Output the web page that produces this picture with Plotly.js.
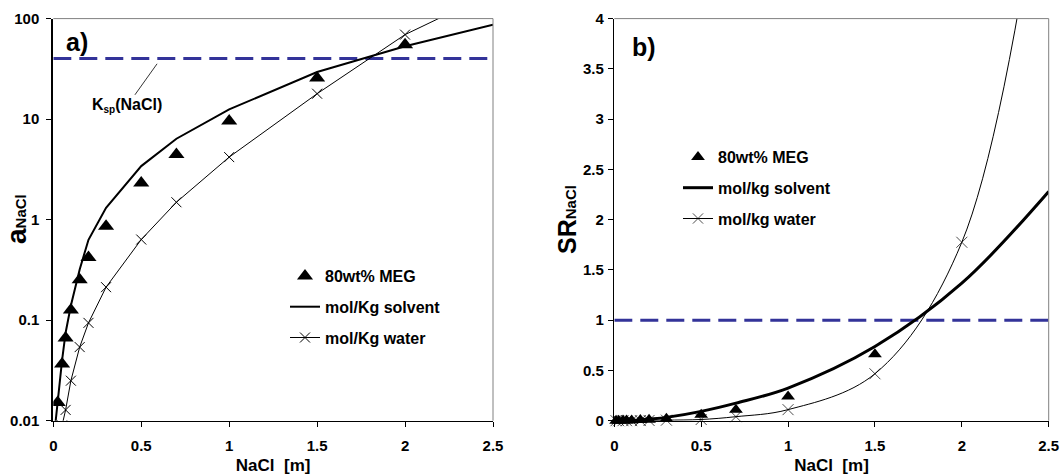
<!DOCTYPE html>
<html>
<head>
<meta charset="utf-8">
<script src="https://cdn.plot.ly/plotly-3.0.1.min.js"></script>
<style>
  html, body { margin: 0; padding: 0; background: #fff; }
  #chart { width: 1062px; height: 476px; }
</style>
</head>
<body>
<div id="chart"></div>
<script>
// ---------- Panel a) activity (log scale) ----------
const xMeg      = [0.025, 0.05, 0.07, 0.1, 0.15, 0.2, 0.3, 0.5, 0.7, 1.0, 1.5, 2.0];
const aMeg      = [0.0152, 0.0367, 0.0665, 0.126, 0.252, 0.42, 0.86, 2.31, 4.46, 9.57, 25.7, 55];
const xModel    = [0.01, 0.025, 0.05, 0.07, 0.1, 0.15, 0.2, 0.3, 0.5, 0.7, 1.0, 1.5, 2.0, 2.5];
const aSolvent  = [0.0087, 0.016, 0.04, 0.075, 0.14, 0.32, 0.63, 1.31, 3.41, 6.38, 12.5, 29.4, 53, 87];
const aWater    = [0.002, 0.004, 0.009, 0.0128, 0.025, 0.054, 0.094, 0.213, 0.634, 1.49, 4.19, 17.9, 69.3, 182];
const kspX      = [0, 2.5];
const kspY      = [40, 40];

// ---------- Panel b) saturation ratio ----------
const xMegSR    = [0.01, 0.025, 0.05, 0.07, 0.1, 0.15, 0.2, 0.3, 0.5, 0.7, 1.0, 1.5];
const srMeg     = [0.0003, 0.0004, 0.0009, 0.0017, 0.003, 0.006, 0.01, 0.02, 0.06, 0.11, 0.24, 0.66];
const xModelSR  = [0.01, 0.025, 0.05, 0.07, 0.1, 0.15, 0.2, 0.3, 0.5, 0.7, 1.0, 1.5, 2.0, 2.5];
const srSolvent = [0.0002, 0.0004, 0.001, 0.0019, 0.0035, 0.008, 0.016, 0.033, 0.093, 0.175, 0.325, 0.738, 1.368, 2.28];
const srWater   = [0.0001, 0.0001, 0.0002, 0.0003, 0.0006, 0.0013, 0.0024, 0.0053, 0.012, 0.04, 0.11, 0.467, 1.775, 6];
const satX      = [0, 2.5];
const satY      = [1, 1];

// ---------- Text ----------
const logTickVals = [0.01, 0.1, 1, 10, 100];
const logTickText = ['0.01', '0.1', '1', '10', '100'];
const legA = ['80wt% MEG', 'mol/Kg solvent', 'mol/Kg water'];
const legB = ['80wt% MEG', 'mol/kg solvent', 'mol/kg water'];

const FONT = 'Liberation Sans, Arial, sans-serif';
const W = 1062, H = 476;
const px = v => v / W;
const py = v => 1 - v / H;

const dash = {color: '#333399', width: 3, dash: '18px,8px'};

const traces = [
  // panel a
  {x: kspX, y: kspY, xaxis: 'x', yaxis: 'y', mode: 'lines', line: dash, showlegend: false, hoverinfo: 'skip'},
  {x: xMeg, y: aMeg, xaxis: 'x', yaxis: 'y', mode: 'markers', name: legA[0], legend: 'legend', legendgroup: 'a1',
   marker: {symbol: 'triangle-up', size: 14, color: '#000'}},
  {x: xModel, y: aSolvent, xaxis: 'x', yaxis: 'y', mode: 'lines', name: legA[1], legend: 'legend', legendgroup: 'a2',
   line: {color: '#000', width: 2}},
  {x: xModel, y: aWater, xaxis: 'x', yaxis: 'y', mode: 'lines+markers', name: legA[2], legend: 'legend', legendgroup: 'a3',
   line: {color: '#000', width: 1}, marker: {symbol: 'x-thin-open', size: 10, color: '#000', line: {width: 1, color: '#000'}}},
  // panel b
  {x: satX, y: satY, xaxis: 'x2', yaxis: 'y2', mode: 'lines', line: dash, showlegend: false, hoverinfo: 'skip'},
  {x: xMegSR, y: srMeg, xaxis: 'x2', yaxis: 'y2', mode: 'markers', name: legB[0], legend: 'legend2', legendgroup: 'b1',
   cliponaxis: false, marker: {symbol: 'triangle-up', size: 12, color: '#000'}},
  {x: xModelSR, y: srSolvent, xaxis: 'x2', yaxis: 'y2', mode: 'lines', name: legB[1], legend: 'legend2', legendgroup: 'b2',
   line: {color: '#000', width: 3, shape: 'spline', smoothing: 1}},
  {x: xModelSR, y: srWater, xaxis: 'x2', yaxis: 'y2', mode: 'lines+markers', name: legB[2], legend: 'legend2', legendgroup: 'b3',
   cliponaxis: false,
   line: {color: '#000', width: 1, shape: 'spline', smoothing: 1},
   marker: {symbol: 'x-thin-open', size: xModelSR.map(v => v > 2.4 ? 0 : 11), color: '#000', line: {width: 1, color: '#000'}}}
];

const tickFont = {family: FONT, size: 15, color: '#000', weight: 'bold'};
const titleFont = {family: FONT, size: 17, color: '#000', weight: 'bold'};
const legFont = {family: FONT, size: 16, color: '#000', weight: 'bold'};

const xCommon = {
  range: [0, 2.5], tick0: 0, dtick: 0.5, ticks: 'outside', ticklen: 5, tickcolor: '#000', tickwidth: 1,
  showline: true, linecolor: '#000', linewidth: 1.5, showgrid: false, zeroline: false,
  tickfont: tickFont, automargin: false, fixedrange: true, ticklabelstandoff: 6,
  title: {text: 'NaCl\u00a0 [m]', font: titleFont, standoff: 6}
};

const yDomain = [1 - 420.7 / H, 1 - 18.6 / H];

const layout = {
  width: W, height: H,
  margin: {l: 0, r: 0, t: 0, b: 0},
  paper_bgcolor: '#fff', plot_bgcolor: '#fff',
  font: {family: FONT, color: '#000'},
  xaxis: Object.assign({}, xCommon, {domain: [px(53.3), px(493)], anchor: 'y'}),
  yaxis: {
    type: 'log', range: [-2, 2], domain: yDomain, anchor: 'x',
    tickvals: logTickVals, ticktext: logTickText,
    ticks: 'outside', ticklen: 5, tickcolor: '#000',
    showline: true, linecolor: '#000', linewidth: 2, showgrid: false, zeroline: false,
    tickfont: tickFont, automargin: false, fixedrange: true, ticklabelstandoff: 4
  },
  xaxis2: Object.assign({}, xCommon, {domain: [px(614.3), px(1048.7)], anchor: 'y2'}),
  yaxis2: {
    range: [0, 4], tick0: 0, dtick: 0.5, domain: yDomain, anchor: 'x2',
    ticks: 'outside', ticklen: 5, tickcolor: '#000',
    showline: true, linecolor: '#000', linewidth: 1.5, showgrid: false, zeroline: false,
    tickfont: tickFont, automargin: false, fixedrange: true, ticklabelstandoff: 1
  },
  legend: {
    x: px(285), y: py(259), xanchor: 'left', yanchor: 'top',
    bgcolor: 'rgba(0,0,0,0)', borderwidth: 0,
    font: legFont, tracegroupgap: 7, traceorder: 'grouped'
  },
  legend2: {
    x: px(678), y: py(140), xanchor: 'left', yanchor: 'top',
    bgcolor: 'rgba(0,0,0,0)', borderwidth: 0,
    font: legFont, tracegroupgap: 7, traceorder: 'grouped'
  },
  shapes: [
    {type: 'line', xref: 'x domain', yref: 'y domain', x0: 0, x1: 1, y0: 1, y1: 1, line: {color: '#808080', width: 1}},
    {type: 'line', xref: 'x domain', yref: 'y domain', x0: 1, x1: 1, y0: 0, y1: 1, line: {color: '#808080', width: 1}},
    {type: 'line', xref: 'x2 domain', yref: 'y2 domain', x0: 0, x1: 1, y0: 1, y1: 1, line: {color: '#808080', width: 1}},
    {type: 'line', xref: 'x2 domain', yref: 'y2 domain', x0: 1, x1: 1, y0: 0, y1: 1, line: {color: '#808080', width: 1}}
  ],
  annotations: [
    {xref: 'paper', yref: 'paper', x: px(64), y: py(42), xanchor: 'left', yanchor: 'middle', showarrow: false,
     text: 'a)', font: {family: FONT, size: 25, color: '#000', weight: 'bold'}},
    {xref: 'paper', yref: 'paper', x: px(630), y: py(47), xanchor: 'left', yanchor: 'middle', showarrow: false,
     text: 'b)', font: {family: FONT, size: 25, color: '#000', weight: 'bold'}},
    {xref: 'x', yref: 'y', x: 0.59, y: Math.log10(35.5), ax: -30, ay: 42, showarrow: true,
     arrowhead: 0, arrowwidth: 0.8, arrowcolor: '#000', standoff: 0,
     text: 'K<sub><span style="font-size:10px">sp</span></sub>(NaCl)', font: {family: FONT, size: 16, color: '#000', weight: 'bold'}},
    {xref: 'paper', yref: 'paper', x: px(17), y: py(219), xanchor: 'center', yanchor: 'middle', showarrow: false, textangle: -90,
     text: 'a<span style="font-size:15px">NaCl</span>', font: {family: FONT, size: 28, color: '#000', weight: 'bold'}},
    {xref: 'paper', yref: 'paper', x: px(567), y: py(220), xanchor: 'center', yanchor: 'middle', showarrow: false, textangle: -90,
     text: 'SR<span style="font-size:15px">NaCl</span>', font: {family: FONT, size: 25, color: '#000', weight: 'bold'}}
  ]
};

Plotly.newPlot('chart', traces, layout, {displayModeBar: false, staticPlot: true});
</script>
</body>
</html>
